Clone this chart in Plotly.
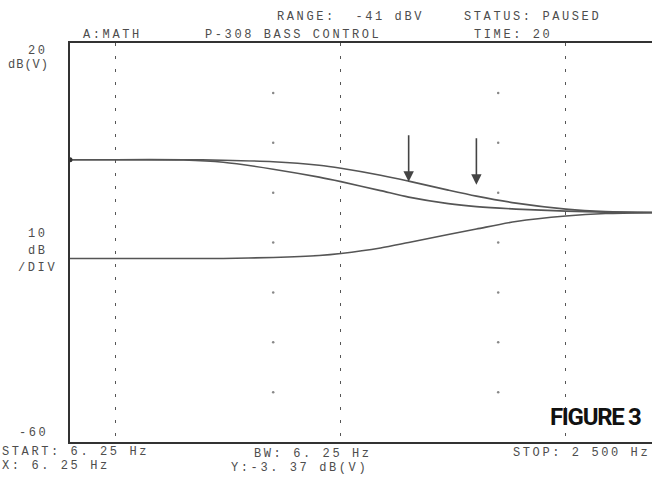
import math
import plotly.graph_objects as go

# %%
# Datos leídos del analizador (P-308 bass control)
freq_hz = [6.25, 10, 20, 30, 50, 80, 100, 150, 200, 300, 400, 600, 1000, 1500, 2500]
upper_db = [-3.4, -3.4, -3.4, -3.5, -3.8, -4.5, -5.1, -6.5, -7.7, -9.5, -10.7, -12.1, -13.3, -13.8, -14.0]
middle_db = [-3.4, -3.4, -3.45, -3.9, -5.3, -6.9, -7.8, -9.6, -10.9, -12.2, -12.8, -13.3, -13.7, -13.9, -14.0]
lower_db = [-23.2, -23.2, -23.2, -23.2, -23.0, -22.6, -22.2, -21.1, -20.0, -18.4, -17.3, -15.8, -14.7, -14.2, -14.0]

marker_freqs = [200, 400]
marker_db = [-7.8, -8.4]

grid_freqs = [10, 100, 1000]
dot_freqs = [50, 500]
dot_levels = [10, 0, -10, -20, -30, -40, -50]

W, H = 652, 479
L, R, T, B = 70, 0, 43, 37
ink = "#4d4d4d"
mono = "Liberation Mono, DejaVu Sans Mono, monospace"

# %%
fig = go.Figure()

for ys in (upper_db, middle_db, lower_db):
    fig.add_trace(go.Scatter(x=freq_hz, y=ys, mode="lines",
                             line=dict(color="#555555", width=1.6, shape="spline", smoothing=0.8),
                             hoverinfo="skip"))

# puntos de la reticula
fig.add_trace(go.Scatter(
    x=[f for f in dot_freqs for _ in dot_levels],
    y=[v for _ in dot_freqs for v in dot_levels],
    mode="markers", marker=dict(color="#888888", size=2.5), hoverinfo="skip"))

fig.add_trace(go.Scatter(x=[freq_hz[0]], y=[upper_db[0]], mode="markers",
                         marker=dict(color="#333333", size=5), hoverinfo="skip"))


def px_x(p):
    return (p - L) / (W - L - R)


def px_y(p):
    return (H - B - p) / (H - T - B)


# texto, x, y, ancla, espaciado
labels = [
    ("RANGE:  -41 dBV", 275, 17, "left", 2.6),
    ("STATUS: PAUSED", 462, 17, "left", 2.6),
    ("A:MATH", 81, 35, "left", 2.6),
    ("P-308 BASS CONTROL", 203, 35, "left", 2.6),
    ("TIME: 20", 472, 35, "left", 2.6),
    ("20", 50, 51, "right", 2.6),
    ("dB(V)", 51, 65, "right", 1.0),
    ("10", 50, 234, "right", 2.6),
    ("dB", 50, 251, "right", 2.6),
    ("/DIV", 59, 268, "right", 2.6),
    ("-60", 50, 433, "right", 2.6),
    ("START: 6. 25 Hz", 0, 452, "left", 2.6),
    ("BW: 6. 25 Hz", 252, 454, "left", 2.6),
    ("STOP: 2 500 Hz", 652, 453, "right", 2.6),
    ("X: 6. 25 Hz", 0, 466, "left", 2.6),
    ("Y:-3. 37 dB(V)", 229, 468, "left", 2.6),
]

for text, x, y, anchor, sp in labels:
    fig.add_annotation(text=f'<span style="letter-spacing:{sp}px">{text}</span>',
                       xref="paper", yref="paper", x=px_x(x), y=px_y(y),
                       xanchor=anchor, yanchor="middle", showarrow=False,
                       font=dict(family=mono, size=12, color=ink))

fig.add_annotation(text='<span style="letter-spacing:-1.3px">FIGURE&nbsp;3</span>',
                   xref="paper", yref="paper",
                   x=px_x(595), y=px_y(417), xanchor="center", yanchor="middle",
                   showarrow=False,
                   font=dict(family="Roboto, Liberation Sans, sans-serif", weight="bold",
                             size=24, color="#111111"))

# flechas de los marcadores
for f, v in zip(marker_freqs, marker_db):
    fig.add_annotation(x=math.log10(f), y=v, xref="x", yref="y", text="",
                       showarrow=True, ax=0, ay=-48, arrowhead=2, arrowsize=1.3,
                       arrowwidth=1.6, arrowcolor="#444444")

fig.update_layout(
    width=W, height=H,
    margin=dict(l=L, r=R, t=T, b=B),
    paper_bgcolor="white", plot_bgcolor="white",
    showlegend=False,
    xaxis=dict(type="log", range=[math.log10(6.25), math.log10(6.25) + (W - L) / 225],
               tickvals=grid_freqs, showticklabels=False, ticks="",
               showgrid=True, gridcolor="#555555", gridwidth=1.4, griddash="3px,10px",
               showline=True, linecolor="#333333", linewidth=2, mirror=True,
               zeroline=False),
    yaxis=dict(range=[-60, 20], showticklabels=False, ticks="", showgrid=False,
               showline=True, linecolor="#333333", linewidth=2, zeroline=False),
)

fig.write_html("out.html", config={"displayModeBar": False},
               post_script="document.body.style.margin='0';")
